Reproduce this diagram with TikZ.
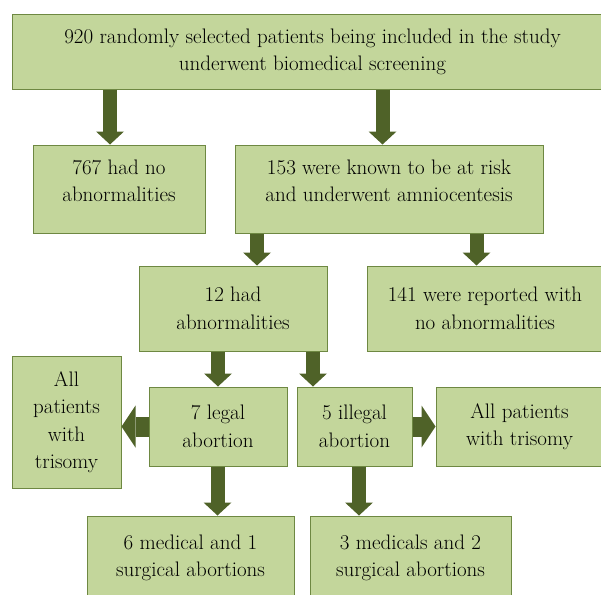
\documentclass[tikz,border=0pt]{standalone}
\usepackage{fontspec}
\usepackage{tikz}
\usetikzlibrary{arrows.meta,positioning}
\definecolor{boxfill}{HTML}{C3D69B}
\definecolor{boxline}{HTML}{6E8842}
\definecolor{arrc}{HTML}{4F6228}

\begin{document}
\begin{tikzpicture}[x=1pt, y=-1pt,
	box/.style={draw=boxline, fill=boxfill, line width=1pt, inner sep=0pt, align=center,
		font=\fontsize{21}{27.5}\selectfont},
	down/.style={draw=arrc, line width=14pt, -{Triangle[length=13pt,width=28pt,line width=0pt]}},
	side/.style={draw=arrc, line width=20pt, -{Triangle[length=14pt,width=42pt,line width=0pt]}}]
				\useasboundingbox (0,0) rectangle (601,594);
				\node[box, minimum width=601, minimum height=74] (top) at (312.5, 52) {920 randomly selected patients being included in the study\\underwent biomedical screening};
				\node[box, minimum width=172, minimum height=88] (none) at (119, 189) {767 had no\\abnormalities\\[-11pt]};
				\node[box, minimum width=308, minimum height=88] (risk) at (389, 189) {153 were known to be at risk\\and underwent amniocentesis\\[-11pt]};
				\node[box, minimum width=188, minimum height=85] (abn) at (233, 308.5) {12 had\\abnormalities};
				\node[box, minimum width=236, minimum height=85] (normal) at (485, 308.5) {141 were reported with\\no abnormalities};
				\node[box, minimum width=138, minimum height=79] (legal) at (218, 426.5) {7 legal\\abortion};
				\node[box, minimum width=115, minimum height=79] (illegal) at (354.5, 426.5) {5 illegal\\abortion};
				\node[box, minimum width=109, minimum height=132] (trisl) at (66.5, 422) {All\\patients\\with\\trisomy};
				\node[box, minimum width=167, minimum height=79] (trisr) at (519.5, 426.5) {All patients\\with trisomy};
				\node[box, minimum width=207, minimum height=84] (legalout) at (190.5, 558) {6 medical and 1\\surgical abortions};
				\node[box, minimum width=201, minimum height=84] (illegalout) at (410.5, 558) {3 medicals and 2\\surgical abortions};
				
				\draw [down] ([xshift=-9]none.north |- top.south) to ([xshift=-9]none.north);
				\draw [down] ([xshift=-6.5]risk.north |- top.south) to ([xshift=-6.5]risk.north);
				\draw [down] ([xshift=24]abn.north |- risk.south) to ([xshift=24]abn.north);
				\draw [down] ([xshift=-8.5]normal.north |- risk.south) to ([xshift=-8.5]normal.north);
				\draw [down] (legal.north |- abn.south) to (legal.north);
				\draw [down] ([xshift=-41.5]illegal.north |- abn.south) to ([xshift=-41.5]illegal.north);
				\draw [down] ([xshift=27]legalout.north |- legal.south) to ([xshift=27]legalout.north);
				\draw [down] ([xshift=-51.5]illegalout.north |- illegal.south) to ([xshift=-51.5]illegalout.north);
				\draw [side] (legal.west) to (legal.west -| trisl.east);
				\draw [side] (illegal.east) to (illegal.east -| trisr.west);
				\end{tikzpicture}
\end{document}
